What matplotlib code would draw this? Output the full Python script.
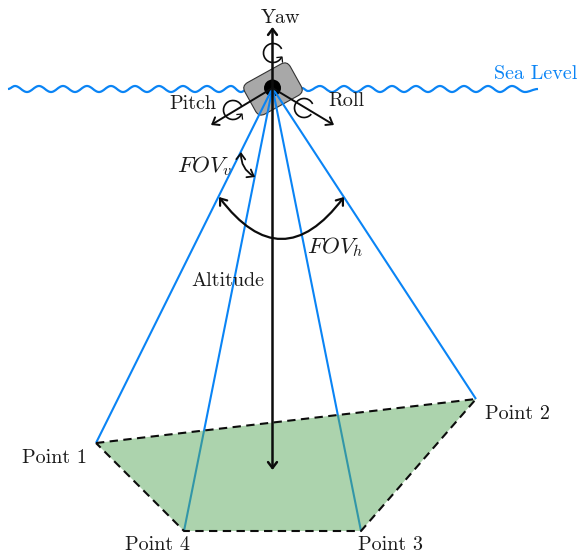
import matplotlib
matplotlib.use('Agg')
import matplotlib.pyplot as plt
from matplotlib.patches import Polygon, Circle, Arc, FancyBboxPatch, FancyArrowPatch, PathPatch
from matplotlib.path import Path
from matplotlib.transforms import Affine2D

plt.rcParams['font.family'] = ['cmr10', 'DejaVu Sans']
plt.rcParams['mathtext.fontset'] = 'cm'
plt.rcParams['axes.formatter.use_mathtext'] = True

camera = (272.5, 88)
corner_x = [96, 476, 361, 184]
corner_y = [443, 399, 531, 531]
corner_names = ['Point 1', 'Point 2', 'Point 3', 'Point 4']
corner_label_x = [55, 517, 390, 157]
corner_label_y = [458, 414, 545, 545]

# crests and troughs of the sea line, alternating
wave_left_x = [8, 15, 27, 39, 51, 63, 75, 87, 99, 111, 123, 135, 147, 159, 171, 183, 195, 207, 219, 231, 241, 246]
wave_left_y = [89, 86, 92, 86, 92, 86, 92, 86, 92, 86, 92, 86, 92, 86, 92, 86, 92, 86, 92, 86, 92, 90]
wave_right_x = [302, 308, 320, 332, 344, 356, 368, 380, 392, 404, 416, 428, 440, 452, 464, 476, 488, 500, 512, 525, 538]
wave_right_y = [88, 91, 86, 92, 86, 92, 86, 92, 86, 92, 86, 92, 86, 92, 86, 92, 86, 92, 86, 92, 89]

BLUE = '#0a84f5'
BLACK = '#0c0c0c'

fig = plt.figure(figsize=(5.8, 5.58), dpi=100)
ax = fig.add_axes([0, 0, 1, 1])
ax.set_xlim(0, 580)
ax.set_ylim(558, 0)
ax.axis('off')


def draw_wave(xs, ys):
    # horizontal tangents at each crest and trough, looks like a sine
    verts = [(xs[0], ys[0])]
    codes = [Path.MOVETO]
    for i in range(1, len(xs)):
        d = (xs[i] - xs[i - 1]) * 0.37
        verts += [(xs[i - 1] + d, ys[i - 1]), (xs[i] - d, ys[i]), (xs[i], ys[i])]
        codes += [Path.CURVE4] * 3
    ax.add_patch(PathPatch(Path(verts, codes), fc='none', ec=BLUE, lw=1.6, zorder=2))


draw_wave(wave_left_x, wave_left_y)
draw_wave(wave_right_x, wave_right_y)

# drone body
body = FancyBboxPatch((-26, -18), 52, 36, boxstyle='round,pad=0,rounding_size=7', fc='#a8a8a8', ec='#333333', lw=0.8,
                      zorder=3, transform=Affine2D().rotate_deg(-29).translate(273, 89) + ax.transData)
ax.add_patch(body)
ax.add_patch(Circle(camera, 8.5, fc='black', ec='none', zorder=4))

# rays
for x, y in zip(corner_x, corner_y):
    ax.plot([camera[0], x], [camera[1], y], color=BLUE, lw=1.5, zorder=5, solid_capstyle='butt')

# footprint
pts = list(zip(corner_x, corner_y))
ax.add_patch(Polygon(pts, closed=True, fc='#5aa95c', ec='none', alpha=0.5, zorder=6))
ax.add_patch(Polygon(pts, closed=True, fc='none', ec=BLACK, lw=1.5, ls=(0, (4, 2.6)), zorder=7))


def arrow(a, b, rad=0.0, style='->', lw=1.4):
    ax.add_patch(FancyArrowPatch(a, b, arrowstyle=f'{style},head_length=0.42,head_width=0.32', mutation_scale=10, lw=lw,
                                 color=BLACK, shrinkA=0, shrinkB=0, connectionstyle=f'arc3,rad={rad}', zorder=9))


arrow(camera, (272.5, 27), lw=1.8)
arrow(camera, (272.5, 470), lw=1.8)
arrow(camera, (211, 125))
arrow(camera, (334, 125))
arrow((241, 152), (255, 177), rad=0.3, style='<->', lw=1.3)
arrow((219, 197), (344, 197), rad=0.66, style='<->', lw=1.6)

# rotation markers, hook at the end of the yaw and pitch ones
ax.add_patch(Arc((273, 53), 19, 19, theta1=25, theta2=335, ec=BLACK, lw=1.2, zorder=9))
ax.plot([277, 282, 282.5], [57.5, 57, 62], color=BLACK, lw=0.9, zorder=9)
ax.add_patch(Arc((233, 110), 19, 19, theta1=25, theta2=335, ec=BLACK, lw=1.2, zorder=9))
ax.plot([237, 242, 242.5], [114.5, 114, 119], color=BLACK, lw=0.9, zorder=9)
ax.add_patch(Arc((304, 108), 19, 19, theta1=40, theta2=335, ec=BLACK, lw=1.2, zorder=9))

# labels
txt = dict(ha='center', va='center', fontsize=14.5, color='#1a1a1a', zorder=10)
ax.text(281, 18, 'Yaw', **txt)
ax.text(193, 104, 'Pitch', **txt)
ax.text(346, 101, 'Roll', **txt)
ax.text(228, 281, 'Altitude', **txt)
ax.text(205, 166, r'$FOV_v$', ha='center', va='center', fontsize=16.5, color='#1a1a1a', zorder=10)
ax.text(335, 247, r'$FOV_h$', ha='center', va='center', fontsize=16.5, color='#1a1a1a', zorder=10)
ax.text(536, 74, 'Sea Level', ha='center', va='center', fontsize=14.5, color=BLUE)
for name, x, y in zip(corner_names, corner_label_x, corner_label_y):
    ax.text(x, y, name, **txt)

fig.savefig('out.png', dpi=100)
